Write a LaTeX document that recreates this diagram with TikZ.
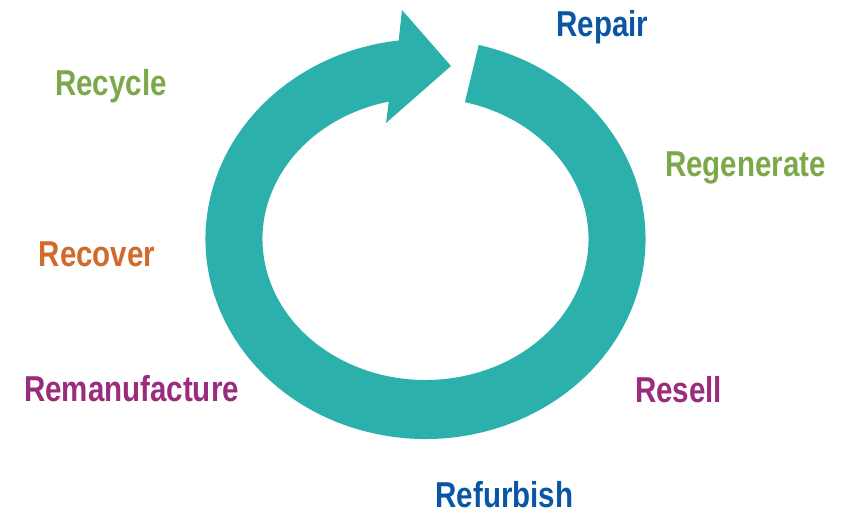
\documentclass[tikz,border=0pt]{standalone}
\usepackage{fontspec}
\setmainfont{Liberation Sans}[FakeStretch=0.82]
\usepackage{tikz}
\usepackage{xcolor}
\usetikzlibrary{calc,positioning}
\definecolor{ringteal}{HTML}{2BB0AC}
\definecolor{rblue}{HTML}{0B56A4}
\definecolor{rgreen}{HTML}{7DA84A}
\definecolor{rorange}{HTML}{D26A2E}
\definecolor{rpurple}{HTML}{9A2C7E}

\begin{document}
\begin{tikzpicture}[x=1pt,y=1pt,
		word/.style={anchor=base,inner sep=0pt,font=\fontsize{36}{40}\selectfont\bfseries}]
		\useasboundingbox (0,0) rectangle (844,516);
		% ring with arrow head
		\fill[ringteal] ($(425.5,277)+(76:220pt and 200pt)$)
			arc[start angle=76,end angle=-263,x radius=220pt,y radius=200pt]
			-- (402,506) -- (451,450) -- (386,393)
			-- ($(425.5,277)+(-257:163pt and 141pt)$)
			arc[start angle=-257,end angle=76,x radius=163pt,y radius=141pt] -- cycle;
		% labels
		\node[word,text=rgreen] (recycle) at (111,420) {Recycle};
		\node[word,text=rorange] (recover) at (97,249) {Recover};
		\node[word,text=rpurple] (reman) at (131.5,114) {Remanufacture};
		\node[word,text=rblue] (repair) at (602.5,479) {Repair};
		\node[word,text=rgreen] (regen) at (745.5,339) {Regenerate};
		\node[word,text=rpurple] (resell) at (678.5,113) {Resell};
		\node[word,text=rblue] (refurb) at (504.5,8) {Refurbish};
\end{tikzpicture}
\end{document}
